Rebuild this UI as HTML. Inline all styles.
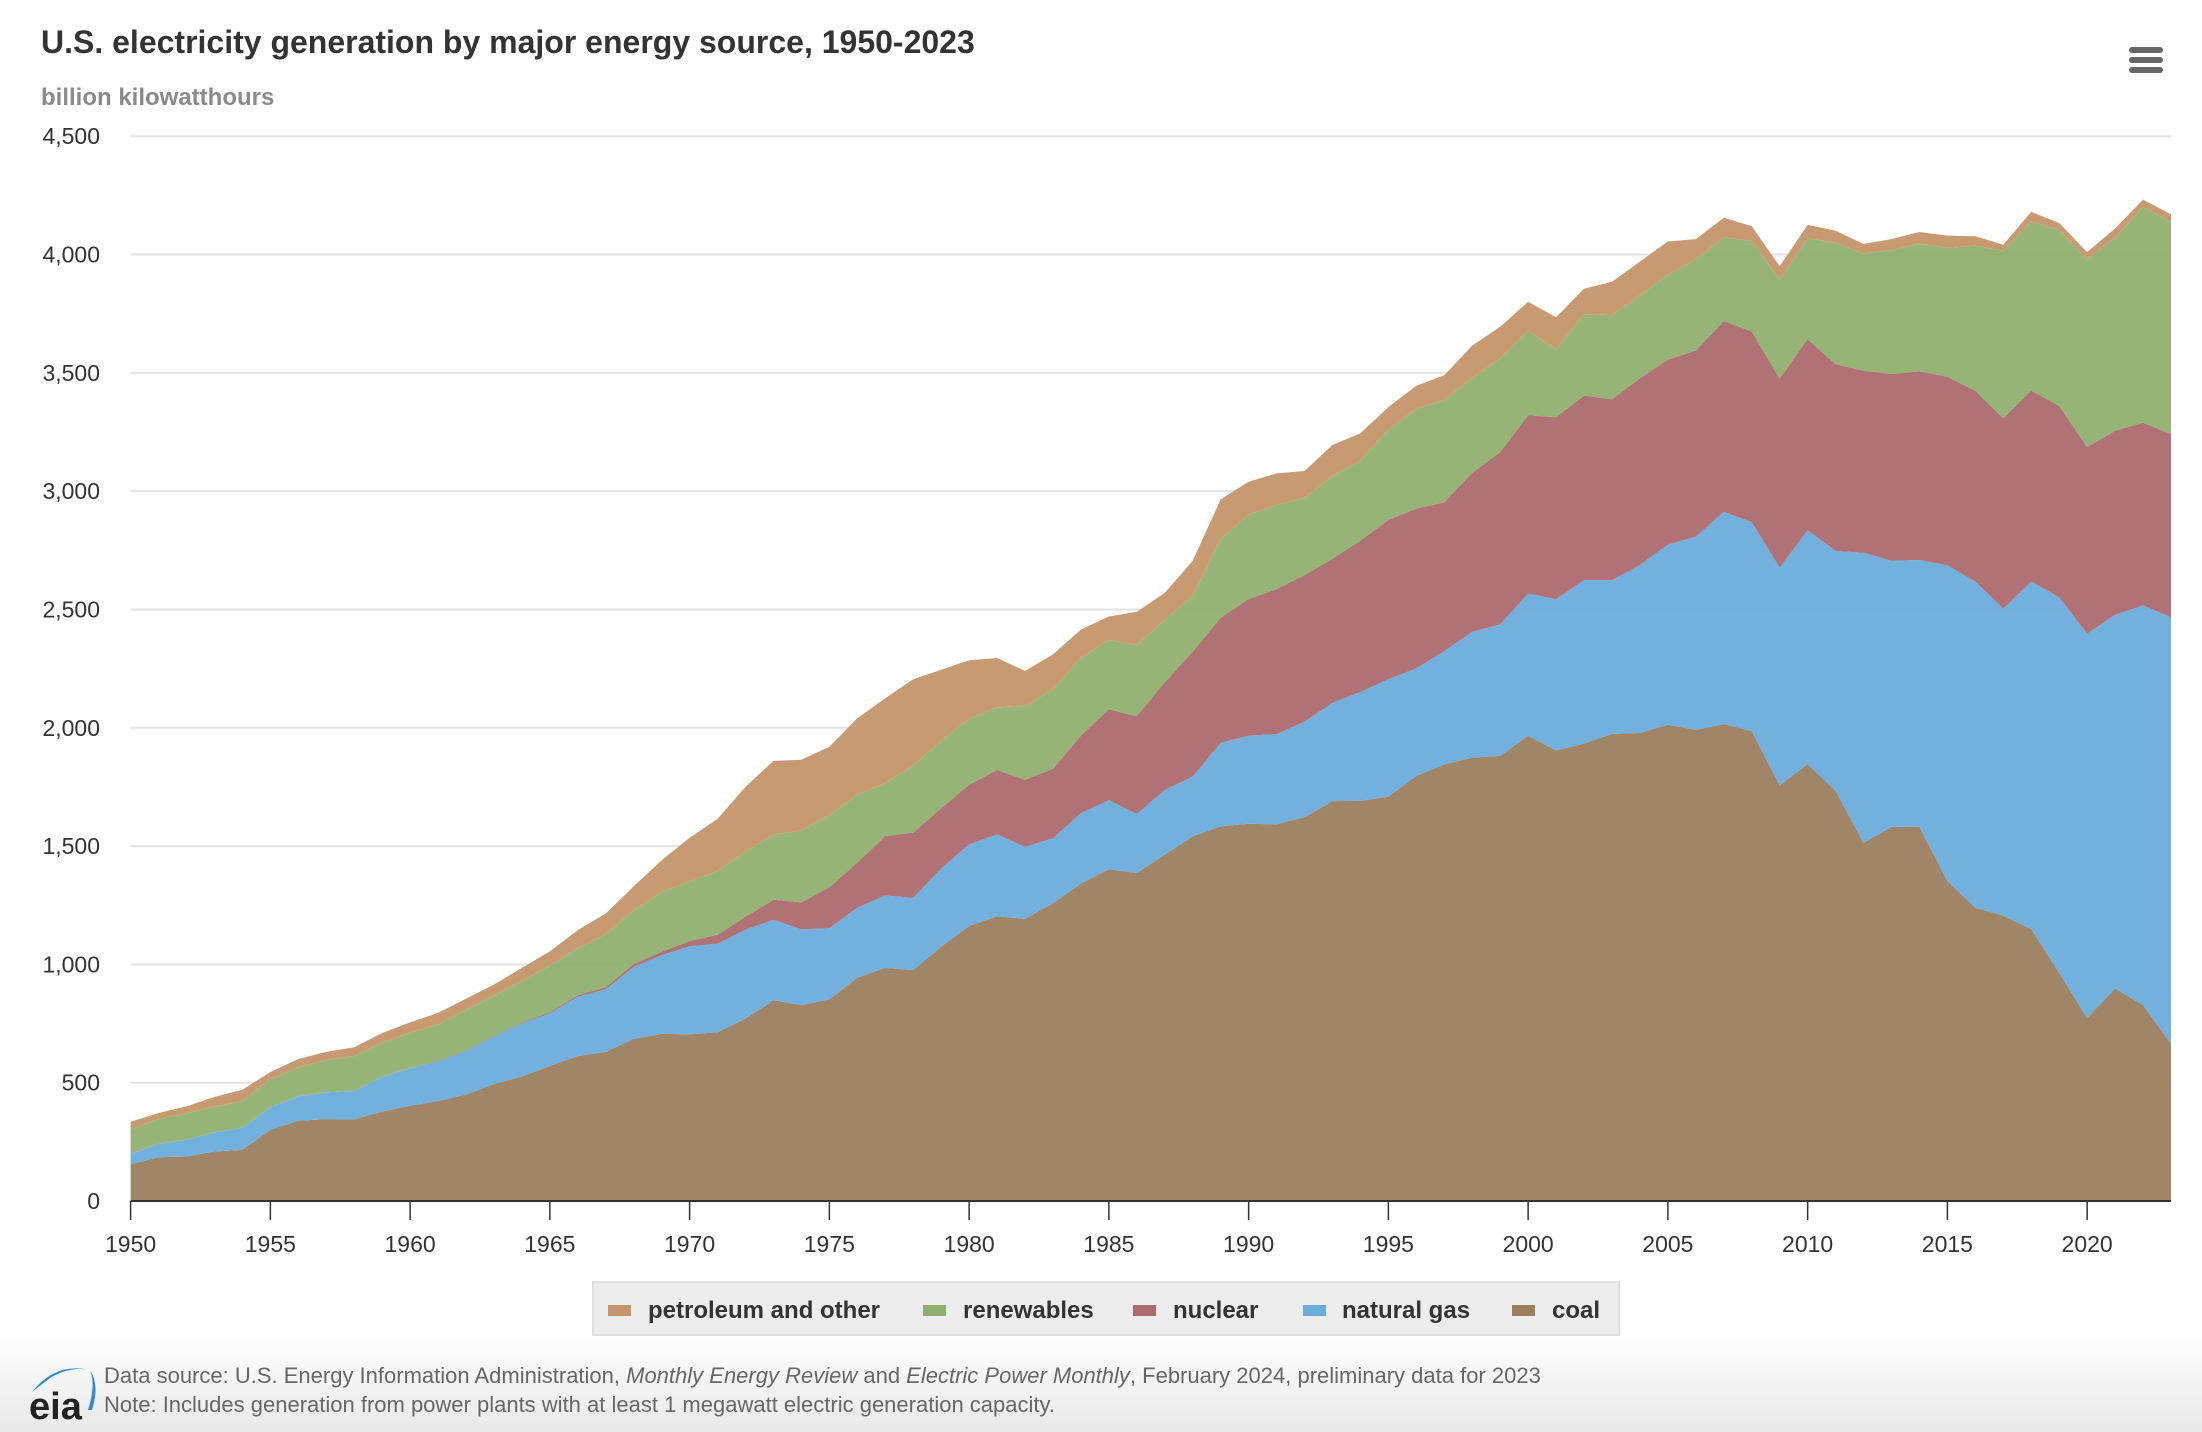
<!DOCTYPE html>
<html><head><meta charset="utf-8">
<style>
html,body{margin:0;padding:0;background:#fff;}
body{width:2202px;height:1432px;position:relative;overflow:hidden;font-family:"Liberation Sans",Arial,sans-serif;}
.footer{position:absolute;left:0;top:1335px;width:2202px;height:97px;background:linear-gradient(#ffffff,#e9e9e9);}
</style></head>
<body>
<div class="footer"></div>
<svg id="chart" width="2202" height="1432" style="position:absolute;left:0;top:0">
  <text x="41" y="53" font-size="32" font-weight="bold" fill="#333">U.S. electricity generation by major energy source, 1950-2023</text>
  <text x="41" y="105" font-size="24" font-weight="bold" fill="#8a8a8a">billion kilowatthours</text>
  <g>
    <rect x="2129" y="47" width="34" height="6" rx="3" fill="#666"/>
    <rect x="2129" y="57" width="34" height="6" rx="3" fill="#666"/>
    <rect x="2129" y="67" width="34" height="6" rx="3" fill="#666"/>
  </g>
  <g id="grid"></g>
  <g id="areas"></g>
  <g id="axis"></g>
  <g>
    <rect x="593" y="1282" width="1026" height="53" fill="#ededed" stroke="#e0e0e0" stroke-width="2"/>
    <g><rect x="608" y="1305" width="23" height="11" fill="#c4956a"/><text x="648" y="1318" font-size="24" font-weight="bold" fill="#333">petroleum and other</text></g>
    <g><rect x="923" y="1305" width="23" height="11" fill="#8fb06f"/><text x="963" y="1318" font-size="24" font-weight="bold" fill="#333">renewables</text></g>
    <g><rect x="1133" y="1305" width="23" height="11" fill="#ad6a6e"/><text x="1173" y="1318" font-size="24" font-weight="bold" fill="#333">nuclear</text></g>
    <g><rect x="1303" y="1305" width="23" height="11" fill="#6aaddb"/><text x="1342" y="1318" font-size="24" font-weight="bold" fill="#333">natural gas</text></g>
    <g><rect x="1512" y="1305" width="23" height="11" fill="#9b7e5e"/><text x="1552" y="1318" font-size="24" font-weight="bold" fill="#333">coal</text></g>
  </g>
  <g>
    <path d="M32 1392 Q55 1362 90 1370 Q70 1366 50 1378 Z" fill="#2f8ed0"/>
    <path d="M90 1370 Q96 1385 88 1410 L92 1410 Q100 1385 90 1370Z" fill="#2f8ed0"/>
    <text x="29" y="1419" font-size="38" font-weight="bold" fill="#222">eia</text>
  </g>
  <text x="104" y="1383" font-size="22" fill="#666">Data source: U.S. Energy Information Administration, <tspan font-style="italic">Monthly Energy Review</tspan> and <tspan font-style="italic">Electric Power Monthly</tspan>, February 2024, preliminary data for 2023</text>
  <text x="104" y="1412" font-size="22" fill="#666">Note: Includes generation from power plants with at least 1 megawatt electric generation capacity.</text>
</svg>
<script>
const firstYear = 1950;
const coal = [155,185,188,209,216,301,339,346,345,378,403,422,450,494,526,571,613,630,685,706,704,713,771,848,828,853,944,985,976,1075,1162,1203,1192,1259,1342,1402,1386,1464,1541,1584,1594,1592,1622,1690,1691,1709,1796,1845,1874,1881,1966,1904,1933,1974,1978,2013,1991,2016,1986,1756,1847,1733,1514,1581,1582,1352,1239,1206,1149,965,773,898,828,665];
const naturalGas = [45,57,71,81,94,95,104,114,120,147,158,169,184,202,225,222,251,265,304,333,373,374,376,341,320,300,295,306,305,330,346,346,305,274,297,292,249,273,253,352,373,381,404,415,460,496,455,479,531,556,601,639,691,650,710,761,816,897,883,921,988,1014,1226,1125,1127,1334,1379,1297,1469,1586,1624,1579,1689,1802];
const nuclear = [0,0,0,0,0,0,0,0,0,0,1,2,2,3,3,4,6,8,13,14,22,38,54,84,114,173,191,251,276,255,251,273,283,294,328,384,414,455,527,529,577,613,619,610,640,673,675,629,673,728,754,769,780,764,789,782,787,806,806,799,807,790,769,789,797,797,806,805,807,809,790,778,772,775];
const renewables = [101,105,111,109,112,116,123,136,147,144,149,153,171,168,177,197,198,225,226,253,251,270,276,275,304,304,288,224,283,284,279,264,312,335,329,293,301,264,236,333,357,355,326,350,337,381,422,433,400,397,356,287,344,356,351,358,386,353,383,418,427,513,494,523,540,545,613,708,714,743,792,815,913,894];
const petroleum = [34,25,30,41,48,33,34,34,38,41,44,49,48,48,54,61,77,87,102,134,185,220,273,312,299,290,322,359,365,301,247,209,148,148,119,99,140,114,148,167,139,134,114,130,117,96,97,104,137,133,123,136,107,141,142,141,85,83,62,56,56,50,42,47,49,52,40,25,41,30,31,40,30,34];
const yTicks = [0,500,1000,1500,2000,2500,3000,3500,4000,4500];
const xTicks = [1950,1955,1960,1965,1970,1975,1980,1985,1990,1995,2000,2005,2010,2015,2020];

const X0=130.6, X1=2171, Y0=1201, Y1=136.2, YMAX=4500, NY=coal.length;
const xs = yr => X0 + (yr-firstYear)/(firstYear+NY-1-firstYear)*(X1-X0);
const ys = v => Y0 - v/YMAX*(Y0-Y1);
const NS='http://www.w3.org/2000/svg';
const grid=document.getElementById('grid'), areas=document.getElementById('areas'), axis=document.getElementById('axis');

yTicks.forEach(t=>{
  if(t>0){
    const l=document.createElementNS(NS,'line');
    l.setAttribute('x1',X0);l.setAttribute('x2',X1);l.setAttribute('y1',ys(t));l.setAttribute('y2',ys(t));
    l.setAttribute('stroke','#e3e3e3');l.setAttribute('stroke-width','2');
    
    
    grid.appendChild(l);
  }
  const tx=document.createElementNS(NS,'text');
  tx.setAttribute('x',100);tx.setAttribute('y',ys(t)+8);tx.setAttribute('text-anchor','end');
  tx.setAttribute('font-size','23');tx.setAttribute('fill','#333');
  tx.textContent=t.toLocaleString('en-US');
  
  
  axis.appendChild(tx);
});

const series=[[coal,'#9b7e5e','area-coal'],[naturalGas,'#6aaddb','area-natural-gas'],[nuclear,'#ad6a6e','area-nuclear'],[renewables,'#8fb06f','area-renewables'],[petroleum,'#c4956a','area-petroleum-and-other']];
let base=new Array(NY).fill(0);
series.forEach(([vals,col,name])=>{
  const top=base.map((b,i)=>b+vals[i]);
  let d='';
  for(let i=0;i<NY;i++) d+=(i?'L':'M')+xs(firstYear+i).toFixed(1)+' '+ys(top[i]).toFixed(1);
  for(let i=NY-1;i>=0;i--) d+='L'+xs(firstYear+i).toFixed(1)+' '+ys(base[i]).toFixed(1);
  d+='Z';
  const p=document.createElementNS(NS,'path');
  p.setAttribute('d',d);p.setAttribute('fill',col);p.setAttribute('fill-opacity','0.95');
  
  
  areas.appendChild(p);
  base=top;
});

const ax=document.createElementNS(NS,'line');
ax.setAttribute('x1',X0);ax.setAttribute('x2',X1);ax.setAttribute('y1',Y0);ax.setAttribute('y2',Y0);
ax.setAttribute('stroke','#333');ax.setAttribute('stroke-width','2');


axis.appendChild(ax);
xTicks.forEach(yr=>{
  const t=document.createElementNS(NS,'line');
  t.setAttribute('x1',xs(yr));t.setAttribute('x2',xs(yr));t.setAttribute('y1',Y0);t.setAttribute('y2',Y0+19);
  t.setAttribute('stroke','#333');t.setAttribute('stroke-width','1.5');
  
  
  axis.appendChild(t);
  const tx=document.createElementNS(NS,'text');
  tx.setAttribute('x',xs(yr));tx.setAttribute('y',1252);tx.setAttribute('text-anchor','middle');
  tx.setAttribute('font-size','23');tx.setAttribute('fill','#333');
  tx.textContent=yr;
  
  
  axis.appendChild(tx);
});
</script>
</body></html>
